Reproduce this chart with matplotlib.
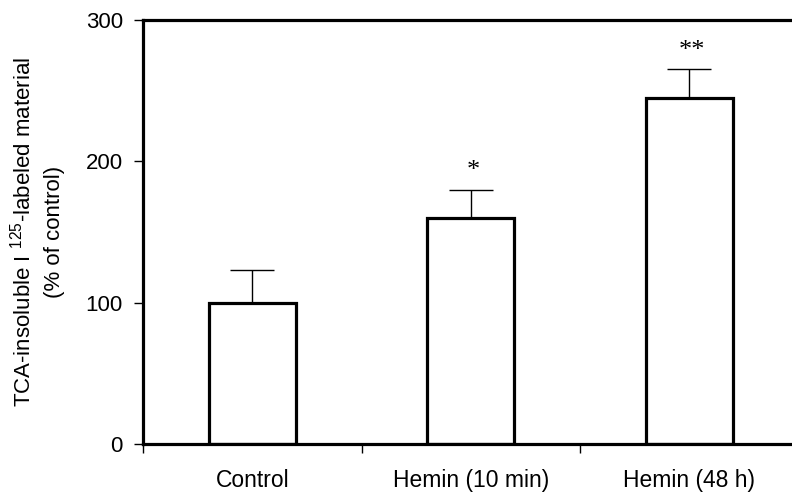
import matplotlib
matplotlib.use("Agg")
import matplotlib.pyplot as plt

categories = ["Control", "Hemin (10 min)", "Hemin (48 h)"]
values = [100, 160, 245]
errors = [23, 20, 20]
stars = ["", "*", "**"]
yticks = [0, 100, 200, 300]

plt.rcParams['font.family'] = ['Liberation Sans', 'DejaVu Sans']
plt.rcParams['mathtext.fontset'] = 'custom'
plt.rcParams['mathtext.rm'] = 'Liberation Sans'

fig = plt.figure(figsize=(7.92, 4.93), dpi=100)
W, H = 792, 493
left, right, top, bottom = 143, 798.5, 20, 444
ax = fig.add_axes([left / W, 1 - bottom / H, (right - left) / W, (bottom - top) / H])

x = list(range(len(categories)))
ax.bar(x, values, width=0.4, color='white', edgecolor='black', linewidth=2.3, zorder=2)
ax.errorbar(x, values, yerr=[[0] * len(errors), errors], fmt='none', ecolor='black',
            elinewidth=1.0, capsize=15.8, capthick=1.0, zorder=1)
for xi, v, e, s in zip(x, values, errors, stars):
    if s:
        ax.text(xi + 0.012, v + e + 13, s, ha='center', va='center', fontsize=19,
                family='Liberation Serif')

ax.set_xlim(-0.5, 2.5)
ax.set_ylim(0, 300)
ax.set_yticks(yticks)
ax.set_xticks(x)
ax.set_xticklabels(categories)
ax.set_xticks([-0.5, 0.5, 1.5, 2.5], minor=True)
ax.tick_params(axis='x', which='major', length=0, pad=18, labelsize=16.5)
ax.tick_params(axis='x', which='minor', length=6.5, width=1, direction='out')
ax.tick_params(axis='y', length=6.5, width=1, direction='out', pad=8, labelsize=16)
for sp in ax.spines.values():
    sp.set_linewidth(2.3)

ax.set_ylabel('TCA-insoluble I $^{125}$-labeled material\n(% of control)', fontsize=16,
              linespacing=1.5, labelpad=15)

fig.savefig('out.png', dpi=100)
